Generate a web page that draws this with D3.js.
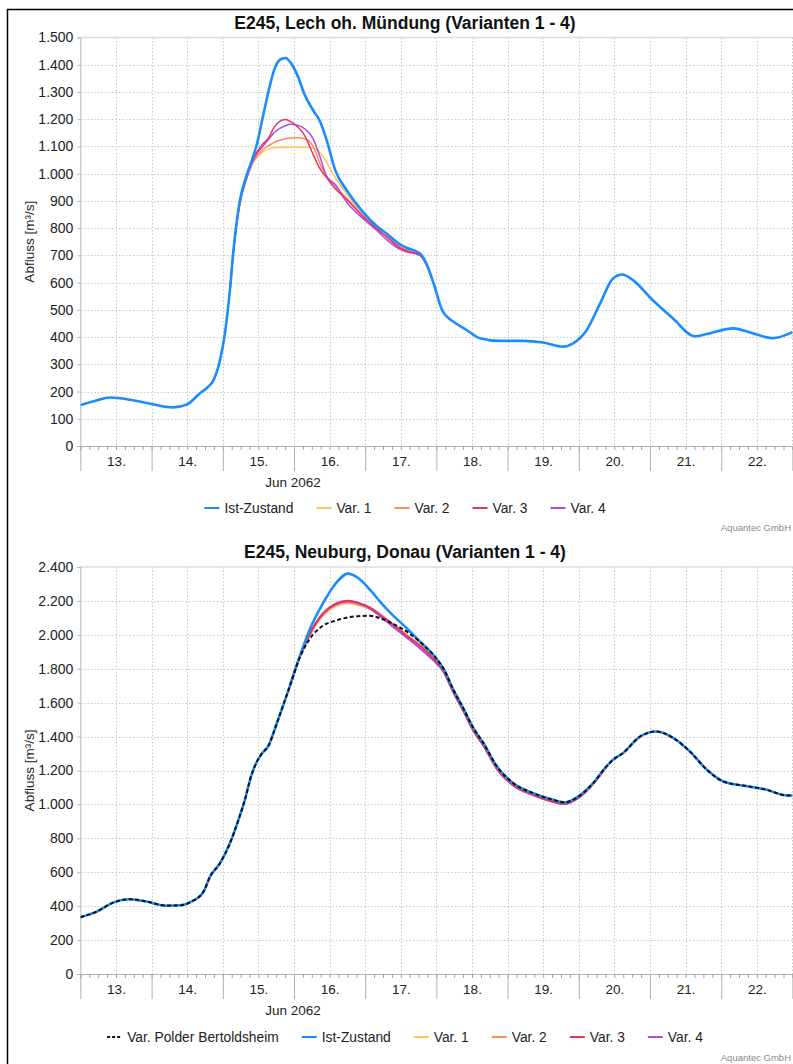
<!DOCTYPE html>
<html><head><meta charset="utf-8">
<script src="https://cdn.jsdelivr.net/npm/d3@7"></script>
<style>
body{margin:0;background:#fff}
svg{display:block}
text{font-family:"Liberation Sans",Arial,Helvetica,sans-serif}
</style>
</head><body>
<svg id="c" width="793" height="1064"></svg>
<script>
// ---------- DATA ----------
const seriesNamesTop = ["Ist-Zustand","Var. 1","Var. 2","Var. 3","Var. 4"];
const seriesNamesBottom = ["Var. Polder Bertoldsheim","Ist-Zustand","Var. 1","Var. 2","Var. 3","Var. 4"];
const dayTickLabels = ["13.","14.","15.","16.","17.","18.","19.","20.","21.","22."];
const monthLabel = "Jun 2062";
const yTicksTop = [0,100,200,300,400,500,600,700,800,900,1000,1100,1200,1300,1400,1500];
const yTicksBottom = [0,200,400,600,800,1000,1200,1400,1600,1800,2000,2200,2400];
const titleTop = "E245, Lech oh. Mündung (Varianten 1 - 4)";
const titleBottom = "E245, Neuburg, Donau (Varianten 1 - 4)";
const yAxisTitle = "Abfluss [m³/s]";
const creditText = "Aquantec GmbH";

// top chart (days since 13 Jun 2062 00:00)
const topDays = [0,0.2,0.42,0.7,1.0,1.3,1.5,1.68,1.78,1.87,1.96,2.03,2.1,2.15,2.24,2.33,2.41,2.48,2.56,2.64,2.72,2.8,2.88,2.96,3.05,3.15,3.27,3.36,3.46,3.58,3.74,3.97,4.16,4.3,4.49,4.58,4.77,4.86,4.96,5.08,5.16,5.24,5.43,5.61,5.89,6.22,6.5,6.78,6.92,7.11,7.3,7.48,7.61,7.76,8.04,8.32,8.63,8.8,9.17,9.45,9.73,10];
const topIst = [150,165,178,170,154,142,153,194,214,242,315,414,572,719,902,990,1050,1110,1205,1300,1380,1418,1425,1405,1360,1290,1232,1195,1122,1012,939,859,808,780,740,728,707,670,598,499,472,456,425,396,386,386,380,365,377,425,524,615,630,609,535,469,403,411,432,413,396,418];

const topVarDays = [2.1,2.15,2.24,2.33,2.41,2.48,2.56,2.64,2.72,2.8,2.88,2.96,3.05,3.15,3.27,3.36,3.46,3.58,3.74,3.97,4.16,4.3,4.49,4.58,4.77,4.86,4.96];
const topVar1 = [572,715,890,975,1030,1060,1080,1090,1095,1096,1097,1097,1097,1097,1093,1079,1040,985,925,848,800,772,733,722,703,667,598];
const topVar2 = [572,715,890,978,1035,1065,1088,1102,1115,1123,1128,1131,1132,1128,1100,1040,990,952,910,845,797,770,730,720,702,666,598];
const topVar3 = [572,715,895,985,1045,1080,1108,1130,1170,1192,1199,1190,1172,1140,1070,1020,985,945,905,843,798,768,727,716,700,665,598];
const topVar4 = [572,715,892,980,1040,1075,1100,1125,1150,1166,1176,1181,1178,1165,1128,1066,990,960,895,835,792,758,722,713,700,665,598];

// bottom chart
const botDays = [0,0.23,0.46,0.7,0.93,1.21,1.4,1.56,1.73,1.82,1.96,2.1,2.22,2.31,2.4,2.48,2.55,2.64,2.76,2.94,3.08,3.22,3.41,3.58,3.76,3.9,4.07,4.21,4.39,4.58,4.77,4.96,5.1,5.24,5.38,5.52,5.66,5.85,6.08,6.36,6.64,6.8,6.97,7.2,7.38,7.48,7.62,7.86,8.09,8.33,8.56,8.8,9.03,9.4,9.64,9.87,10];
const botIst = [335,368,421,441,427,403,405,427,486,574,653,771,909,1027,1170,1253,1300,1345,1480,1696,1873,2030,2188,2300,2361,2335,2265,2195,2115,2040,1960,1880,1800,1675,1565,1450,1362,1224,1125,1066,1027,1012,1040,1125,1220,1263,1302,1400,1430,1391,1312,1204,1135,1105,1086,1056,1052];
const botPolder = [335,368,421,441,427,403,405,427,486,574,653,771,909,1027,1170,1253,1300,1345,1480,1696,1865,1975,2055,2083,2103,2110,2112,2098,2065,2020,1958,1880,1800,1675,1565,1450,1362,1224,1125,1066,1027,1012,1040,1125,1220,1263,1302,1400,1430,1391,1312,1204,1135,1105,1086,1056,1052];

const botVarDays = [2.94,3.08,3.22,3.41,3.58,3.76,3.9,4.07,4.21,4.39,4.58,4.77,4.96,5.1,5.24,5.38,5.52,5.66,5.85,6.08,6.36,6.64,6.8,6.97,7.2,7.38];
const botVar1 = [1696,1865,1995,2115,2168,2186,2176,2150,2112,2060,2000,1940,1862,1785,1660,1550,1435,1348,1210,1112,1055,1015,1002,1032,1120,1218];
const botVar2 = [1696,1868,2000,2120,2174,2192,2182,2155,2116,2060,1998,1937,1860,1785,1660,1550,1435,1348,1210,1112,1055,1015,1002,1032,1120,1218];
const botVar3 = [1696,1870,2005,2128,2182,2201,2190,2160,2120,2062,1996,1935,1858,1786,1662,1551,1436,1349,1211,1113,1056,1016,1003,1033,1121,1218];
const botVar4 = [1696,1870,2003,2126,2180,2198,2186,2155,2110,2048,1985,1920,1848,1782,1660,1550,1435,1348,1210,1112,1055,1015,1002,1032,1120,1218];

// ---------- STYLE ----------
const colors = {ist:"#1a8cff", v1:"#ffc55a", v2:"#ff8a5c", v3:"#e8345f", v4:"#a64ee6", polder:"#111"};

// ---------- DRAW ----------
const svg = d3.select("#c");
const de = d3.formatLocale({decimal:",",thousands:".",grouping:[3],currency:["","€"]});
const fmt = de.format(",");
const t0 = Date.UTC(2062,5,13);
const toDate = d => new Date(t0 + d*864e5);
const xDomain = [toDate(0), toDate(10)];
const YFONT = 14, XFONT = 13.5, LFONT = 13.8;

// frame
svg.append("line").attr("x1",7).attr("x2",793).attr("y1",9.5).attr("y2",9.5).attr("stroke","#000").attr("stroke-width",1.5);
svg.append("line").attr("x1",7.5).attr("x2",7.5).attr("y1",9).attr("y2",1064).attr("stroke","#000").attr("stroke-width",1.5);

function chart(o){
  const g = svg.append("g");
  const x = d3.scaleUtc().domain(xDomain).range([80.4, 792.4]);
  const y = d3.scaleLinear().domain([0, o.ticks[o.ticks.length-1]]).range([o.bottom, o.top]);

  // title
  g.append("text").attr("x",405).attr("y",o.top-9).attr("text-anchor","middle")
    .attr("font-size",17.5).attr("font-weight","bold").attr("fill","#111").text(o.title);

  // grid horizontal
  g.append("g").selectAll("line").data(o.ticks.slice(1,-1)).join("line")
    .attr("x1",x.range()[0]).attr("x2",x.range()[1]).attr("y1",d=>Math.round(y(d))+0.5).attr("y2",d=>Math.round(y(d))+0.5)
    .attr("stroke","#c8c8c8").attr("stroke-dasharray","1.5,2");
  // grid vertical every 12h
  g.append("g").selectAll("line").data(x.ticks(d3.utcHour.every(12)).slice(1)).join("line")
    .attr("x1",d=>Math.round(x(d))+0.5).attr("x2",d=>Math.round(x(d))+0.5).attr("y1",o.top).attr("y2",o.bottom)
    .attr("stroke","#c8c8c8").attr("stroke-dasharray","1.5,2");
  // top border
  g.append("line").attr("x1",x.range()[0]).attr("x2",793).attr("y1",y(o.ticks[o.ticks.length-1])).attr("y2",y(o.ticks[o.ticks.length-1]))
    .attr("stroke","#dcdcdc").attr("stroke-width",1.5);

  // y axis
  const ya = g.append("g").attr("transform",`translate(${x.range()[0]},0)`)
    .call(d3.axisLeft(y).tickValues(o.ticks).tickFormat(fmt).tickSize(3).tickPadding(4));
  ya.select(".domain").attr("stroke","#b5b5b5");
  ya.selectAll(".tick line").attr("stroke","#b5b5b5");
  ya.selectAll("text").attr("font-size",YFONT).attr("fill","#222").style("font-family",'"Liberation Sans",Arial,sans-serif');
  g.append("text").attr("transform",`translate(34,${(o.top+o.bottom)/2}) rotate(-90)`)
    .attr("text-anchor","middle").attr("font-size",13.5).attr("fill","#222").text(yAxisTitle);

  // x axis minor ticks (3h)
  const xa = g.append("g").attr("transform",`translate(0,${o.bottom})`)
    .call(d3.axisBottom(x).ticks(d3.utcHour.every(3)).tickSize(4).tickFormat(""));
  xa.select(".domain").attr("stroke","#b5b5b5");
  xa.selectAll(".tick line").attr("stroke","#a0a0a0");
  // major ticks (days)
  const xb = g.append("g").attr("transform",`translate(0,${o.bottom})`)
    .call(d3.axisBottom(x).ticks(d3.utcDay.every(1)).tickSize(25).tickFormat(""));
  xb.select(".domain").remove();
  xb.selectAll(".tick line").attr("stroke","#b0b0b0");
  // day labels at noon
  const noon = dayTickLabels.map((l,i)=>toDate(i+0.5));
  const xc = g.append("g").attr("transform",`translate(0,${o.bottom})`)
    .call(d3.axisBottom(x).tickValues(noon).tickSize(0).tickPadding(10.5).tickFormat((d,i)=>dayTickLabels[i]));
  xc.select(".domain").remove();
  xc.selectAll("text").attr("font-size",XFONT).attr("fill","#222").style("font-family",'"Liberation Sans",Arial,sans-serif');
  g.append("text").attr("x",293).attr("y",o.bottom+41).attr("text-anchor","middle")
    .attr("font-size",XFONT).attr("fill","#222").text(monthLabel);

  // lines
  const clipId = "clip"+o.id;
  svg.append("clipPath").attr("id",clipId).append("rect").attr("x",x.range()[0]).attr("y",o.top-5).attr("width",793-x.range()[0]).attr("height",o.bottom-o.top+5);
  const lg = g.append("g").attr("clip-path",`url(#${clipId})`);
  const line = d3.line().x(d=>x(toDate(d[0]))).y(d=>y(d[1])).curve(d3.curveMonotoneX);
  o.series.forEach(s=>{
    lg.append("path").datum(d3.zip(s.days,s.values)).attr("d",line).attr("fill","none")
      .attr("stroke",s.color).attr("stroke-width",s.w).attr("stroke-dasharray",s.dash||null)
      .attr("stroke-linejoin","round");
  });

  // legend
  const leg = g.append("g");
  let cx = 0;
  o.legend.forEach(it=>{
    const gi = leg.append("g").attr("transform",`translate(${cx},0)`);
    gi.append("line").attr("x1",0).attr("x2",15).attr("y1",0).attr("y2",0).attr("stroke",it.color)
      .attr("stroke-width",it.dash?2.2:2).attr("stroke-dasharray",it.dash||null);
    const t = gi.append("text").attr("x",20).attr("y",5).attr("font-size",LFONT).attr("fill","#222").text(it.name);
    cx += 20 + t.node().getComputedTextLength() + 23;
  });
  const total = cx - 23;
  leg.attr("transform",`translate(${405-total/2},${o.legendY})`);

  g.append("text").attr("x",791).attr("y",o.creditY).attr("text-anchor","end")
    .attr("font-size",9.5).attr("fill","#8a8a8a").text(creditText);
}

chart({
  id:1, top:37.5, bottom:446, ticks:yTicksTop, title:titleTop, legendY:508, creditY:531,
  series:[
    {days:topVarDays, values:topVar1, color:colors.v1, w:1.5},
    {days:topVarDays, values:topVar2, color:colors.v2, w:1.5},
    {days:topVarDays, values:topVar4, color:colors.v4, w:1.5},
    {days:topVarDays, values:topVar3, color:colors.v3, w:1.5},
    {days:topDays, values:topIst, color:colors.ist, w:2.6}
  ],
  legend:[
    {name:seriesNamesTop[0], color:colors.ist},
    {name:seriesNamesTop[1], color:colors.v1},
    {name:seriesNamesTop[2], color:colors.v2},
    {name:seriesNamesTop[3], color:colors.v3},
    {name:seriesNamesTop[4], color:colors.v4}
  ]
});

chart({
  id:2, top:567, bottom:974, ticks:yTicksBottom, title:titleBottom, legendY:1037, creditY:1061,
  series:[
    {days:botVarDays, values:botVar1, color:colors.v1, w:2},
    {days:botVarDays, values:botVar2, color:colors.v2, w:2},
    {days:botVarDays, values:botVar4, color:colors.v4, w:2},
    {days:botVarDays, values:botVar3, color:colors.v3, w:2},
    {days:botDays, values:botIst, color:colors.ist, w:2.6},
    {days:botDays, values:botPolder, color:colors.polder, w:2, dash:"4,2.5"}
  ],
  legend:[
    {name:seriesNamesBottom[0], color:colors.polder, dash:"3,2"},
    {name:seriesNamesBottom[1], color:colors.ist},
    {name:seriesNamesBottom[2], color:colors.v1},
    {name:seriesNamesBottom[3], color:colors.v2},
    {name:seriesNamesBottom[4], color:colors.v3},
    {name:seriesNamesBottom[5], color:colors.v4}
  ]
});
</script>
</body></html>
